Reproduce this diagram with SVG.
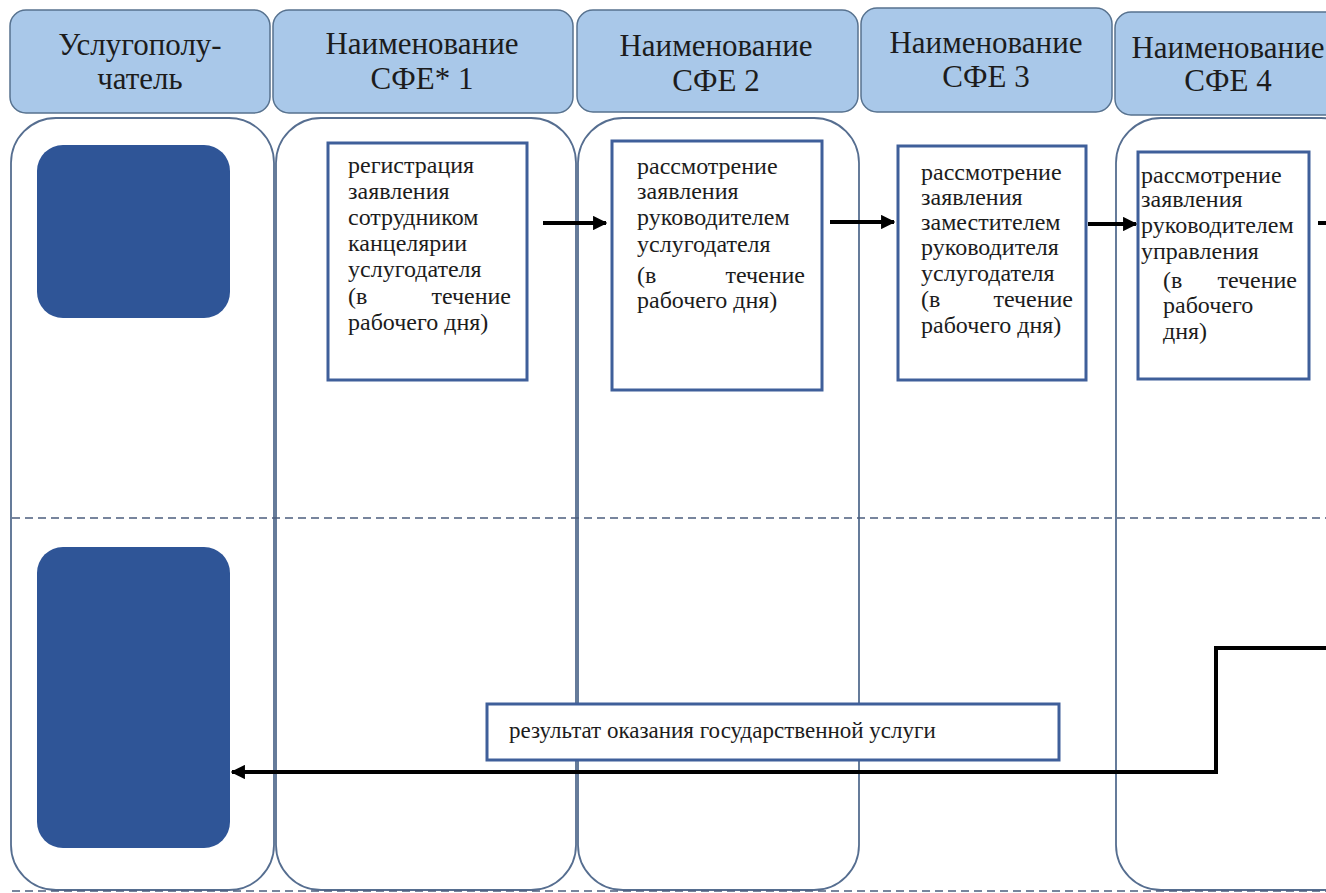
<svg xmlns="http://www.w3.org/2000/svg" width="1326" height="893" viewBox="0 0 1326 893">
  <style>
    .hdr { fill: #a9c8e9; stroke: #57728f; stroke-width: 1.5; }
    .lane { fill: #ffffff; stroke: #566e90; stroke-width: 1.8; }
    .actor { fill: #2f5597; }
    .step { fill: #ffffff; stroke: #3f5f9a; stroke-width: 3; }
    .sep { stroke: #4c5d7e; stroke-width: 1.6; stroke-dasharray: 8 5; fill: none; }
    .ht { font-family: "Liberation Serif", "DejaVu Serif", serif; font-size: 31px; fill: #1c1c1c; text-anchor: middle; }
    .bt { font-family: "Liberation Serif", "DejaVu Serif", serif; font-size: 24px; fill: #1c1c1c; }
    .rt { font-size: 23px; }
    .end { text-anchor: end; }
    .flow { stroke: #000000; stroke-width: 4; fill: none; }
  </style>
  <defs>
    <marker id="arrow" viewBox="0 0 10 10" refX="9" refY="5" markerWidth="3.6" markerHeight="3.6" orient="auto" markerUnits="strokeWidth">
      <path d="M0,0 L10,5 L0,10 Z" fill="#000000"/>
    </marker>
  </defs>

  <rect width="1326" height="893" fill="#ffffff"/>

  <!-- swimlane bodies -->
  <g id="lanes">
    <rect class="lane" x="11" y="118" width="263" height="772" rx="45"/>
    <rect class="lane" x="276" y="118" width="300" height="772" rx="45"/>
    <rect class="lane" x="578" y="118" width="281" height="772" rx="45"/>
    <rect class="lane" x="1116" y="118" width="250" height="772" rx="45"/>
  </g>

  <!-- lane separators -->
  <g id="separators">
    <line class="sep" x1="12" y1="518" x2="1326" y2="518"/>
    <line class="sep" x1="12" y1="891" x2="1326" y2="891"/>
  </g>

  <!-- lane headers -->
  <g id="header-recipient">
    <rect class="hdr" x="10" y="10" width="260" height="103" rx="16"/>
    <text class="ht" x="140" y="55">Услугополу-</text>
    <text class="ht" x="140" y="89">чатель</text>
  </g>
  <g id="header-sfe1">
    <rect class="hdr" x="273" y="10" width="300" height="103" rx="16"/>
    <text class="ht" x="422" y="54">Наименование</text>
    <text class="ht" x="422" y="89">СФЕ* 1</text>
  </g>
  <g id="header-sfe2">
    <rect class="hdr" x="577" y="10" width="281" height="102" rx="16"/>
    <text class="ht" x="716" y="56">Наименование</text>
    <text class="ht" x="716" y="91">СФЕ 2</text>
  </g>
  <g id="header-sfe3">
    <rect class="hdr" x="861" y="8" width="251" height="104" rx="16"/>
    <text class="ht" x="986" y="53">Наименование</text>
    <text class="ht" x="986" y="87">СФЕ 3</text>
  </g>
  <g id="header-sfe4">
    <rect class="hdr" x="1115" y="12" width="250" height="103" rx="16"/>
    <text class="ht" x="1228" y="58">Наименование</text>
    <text class="ht" x="1228" y="91">СФЕ 4</text>
  </g>

  <!-- service recipient blocks -->
  <g id="recipient-start">
    <rect class="actor" x="37" y="145" width="193" height="173" rx="26"/>
  </g>
  <g id="recipient-end">
    <rect class="actor" x="37" y="547" width="193" height="301" rx="26"/>
  </g>

  <!-- process steps -->
  <g id="step-registration">
    <rect class="step" x="328" y="143" width="199" height="237"/>
    <text class="bt" x="348" y="173">регистрация</text>
    <text class="bt" x="348" y="199">заявления</text>
    <text class="bt" x="348" y="225">сотрудником</text>
    <text class="bt" x="348" y="251">канцелярии</text>
    <text class="bt" x="348" y="277">услугодателя</text>
    <text class="bt" x="348" y="304">(в<tspan class="end" x="511">течение</tspan></text>
    <text class="bt" x="348" y="330">рабочего дня)</text>
  </g>

  <g id="step-head-review">
    <rect class="step" x="612" y="141" width="210" height="249"/>
    <text class="bt" x="637" y="174">рассмотрение</text>
    <text class="bt" x="637" y="199">заявления</text>
    <text class="bt" x="637" y="225">руководителем</text>
    <text class="bt" x="637" y="252">услугодателя</text>
    <text class="bt" x="637" y="283">(в<tspan class="end" x="805">течение</tspan></text>
    <text class="bt" x="637" y="308">рабочего дня)</text>
  </g>

  <g id="step-deputy-review">
    <rect class="step" x="898" y="146" width="188" height="234"/>
    <text class="bt" x="921" y="180">рассмотрение</text>
    <text class="bt" x="921" y="205">заявления</text>
    <text class="bt" x="921" y="230">заместителем</text>
    <text class="bt" x="921" y="255">руководителя</text>
    <text class="bt" x="921" y="281">услугодателя</text>
    <text class="bt" x="921" y="307">(в<tspan class="end" x="1073">течение</tspan></text>
    <text class="bt" x="921" y="333">рабочего дня)</text>
  </g>

  <g id="step-department-review">
    <rect class="step" x="1138" y="152" width="171" height="227"/>
    <text class="bt" x="1141" y="183">рассмотрение</text>
    <text class="bt" x="1141" y="207">заявления</text>
    <text class="bt" x="1141" y="233">руководителем</text>
    <text class="bt" x="1141" y="259">управления</text>
    <text class="bt" x="1163" y="288">(в<tspan class="end" x="1297">течение</tspan></text>
    <text class="bt" x="1163" y="313">рабочего</text>
    <text class="bt" x="1163" y="339">дня)</text>
  </g>

  <g id="result">
    <rect class="step" x="487" y="704" width="572" height="56"/>
    <text class="bt rt" x="509" y="738">результат оказания государственной услуги</text>
  </g>

  <!-- connectors -->
  <g id="connectors">
    <line class="flow" x1="543" y1="223" x2="606" y2="223" marker-end="url(#arrow)"/>
    <line class="flow" x1="830" y1="222" x2="894" y2="222" marker-end="url(#arrow)"/>
    <line class="flow" x1="1088" y1="224" x2="1136" y2="224" marker-end="url(#arrow)"/>
    <line class="flow" x1="1318" y1="223" x2="1326" y2="223"/>
    <polyline class="flow" points="1326,648 1216,648 1216,772 232,772" marker-end="url(#arrow)"/>
  </g>
</svg>
